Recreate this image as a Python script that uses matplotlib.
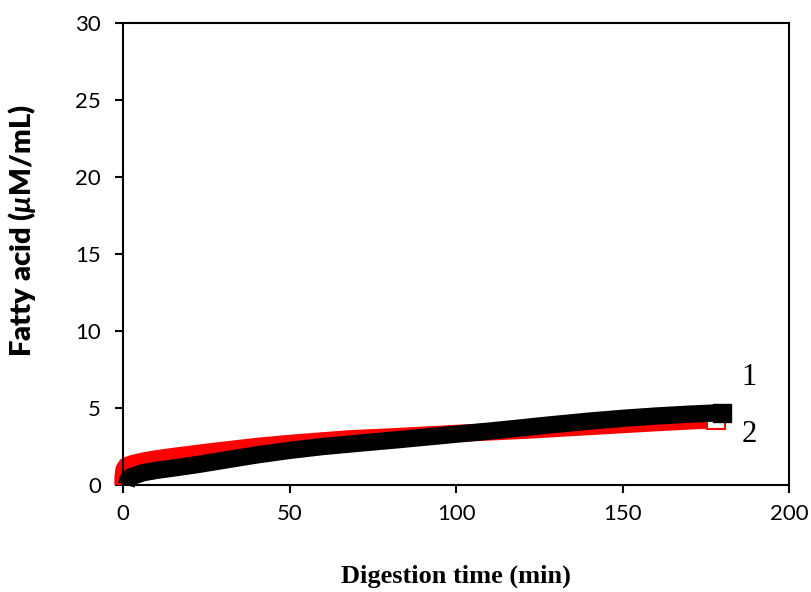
import matplotlib
matplotlib.use("Agg")
import matplotlib.pyplot as plt

# sample 1 (black, filled squares)
time_1 = [1.0, 1.5, 2.5, 4, 6, 10, 15, 23, 30, 40, 50, 60, 70, 83, 100,
          110, 120, 128, 140, 150, 160, 170, 180]
fa_1 = [0.0, 0.35, 0.55, 0.65, 0.8, 0.95, 1.1, 1.35, 1.6, 1.95, 2.25, 2.5,
        2.7, 2.95, 3.3, 3.5, 3.72, 3.9, 4.15, 4.33, 4.48, 4.6, 4.7]

# sample 2 (red, open squares)
time_2 = [0, 0, 0.3, 1, 3, 6, 10, 15, 26, 40, 50, 68, 83, 100, 120, 128,
          140, 160, 178]
fa_2 = [0.0, 0.5, 1.0, 1.25, 1.4, 1.55, 1.7, 1.85, 2.15, 2.5, 2.7, 3.0,
        3.15, 3.35, 3.55, 3.65, 3.8, 4.05, 4.25]

x_ticks = [0, 50, 100, 150, 200]
y_ticks = [0, 5, 10, 15, 20, 25, 30]

plt.rcParams['mathtext.fontset'] = 'custom'
plt.rcParams['mathtext.it'] = 'Lato:italic:bold'
plt.rcParams['mathtext.rm'] = 'Lato:bold'

fig = plt.figure(figsize=(8.11, 5.92), dpi=100)
ax = fig.add_axes([0.1517, 0.1807, 0.8212, 0.7804])

band = 12.5  # points
ax.plot(time_2, fa_2, color='red', lw=band, solid_capstyle='butt',
        solid_joinstyle='round', clip_on=False, zorder=2)
ax.plot(time_2[-1:], fa_2[-1:], 's', ms=band, mfc='white', mec='red',
        mew=1.5, clip_on=False, zorder=2)
ax.plot(time_1, fa_1, color='black', lw=band, solid_capstyle='butt',
        solid_joinstyle='round', clip_on=False, zorder=3)
ax.plot(time_1[-1:], fa_1[-1:], 's', ms=band, color='black',
        clip_on=False, zorder=3)

ax.text(188, 7.0, '1', fontsize=22, family='Liberation Serif',
        ha='center', va='center')
ax.text(188, 3.25, '2', fontsize=22, family='Liberation Serif',
        ha='center', va='center')

ax.set_xlim(0, 200)
ax.set_ylim(0, 30)
ax.set_xticks(x_ticks)
ax.set_yticks(y_ticks)
ax.tick_params(direction='out', length=6, width=1.5, labelsize=16, pad=8)
ax.tick_params(axis='y', pad=10)
for lab in ax.get_xticklabels() + ax.get_yticklabels():
    lab.set_family('Lato')
for s in ax.spines.values():
    s.set_linewidth(1.5)

ax.set_xlabel('Digestion time (min)', fontsize=19, fontweight='bold',
              family='Liberation Serif', labelpad=29)
ax.set_ylabel(r'Fatty acid ($\mathit{\mu}$M/mL)', fontsize=21,
              fontweight='heavy', family='Lato')
ax.yaxis.set_label_coords(-0.127, 0.55)

fig.savefig('out.png', dpi=100)
